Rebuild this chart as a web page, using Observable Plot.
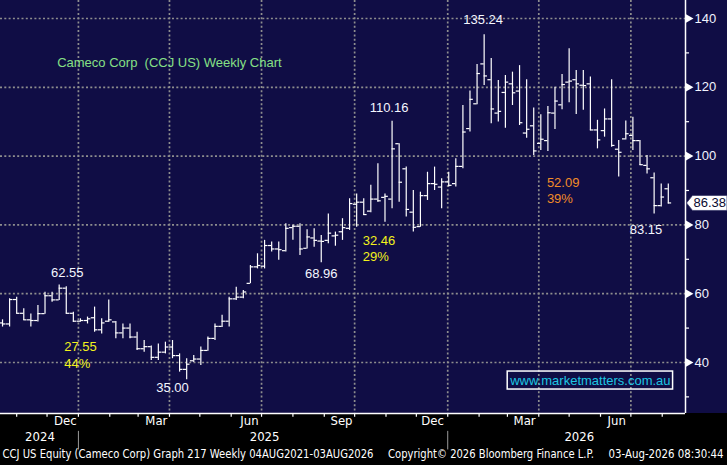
<!DOCTYPE html>
<html><head><meta charset="utf-8">
<script src="https://cdn.jsdelivr.net/npm/d3@7"></script>
<script src="https://cdn.jsdelivr.net/npm/@observablehq/plot@0.6"></script>
<style>
html,body{margin:0;padding:0;background:#000;}
#chart{width:727px;height:465px;overflow:hidden;}
</style></head><body><div id="chart"></div>
<script>
// ---- data ----
const firstWeek = "2024-10-18";
const opens = [51.5,51.2,58.3,54.3,52.4,52.2,54.2,59.4,58.2,61.6,
54.3,52.0,52.2,53.0,49.5,52.0,51.8,48.6,50.0,47.4,
44.0,44.6,41.5,43.0,44.5,42.0,38.0,40.5,41.0,43.5,
47.0,50.5,52.0,58.5,59.0,63.0,67.8,68.0,74.0,73.0,
72.5,79.2,79.6,73.2,76.2,75.3,75.5,76.8,78.0,79.0,
86.0,86.6,84.0,87.5,88.0,87.5,103.6,96.3,83.7,79.5,
88.5,92.0,91.0,92.5,92.0,97.0,108.0,115.2,126.8,122.2,
112.5,118.5,121.0,118.9,106.7,108.8,103.7,104.5,112.5,114.9,
121.5,122.2,120.6,121.0,107.6,107.4,110.8,102.0,105.0,106.0,
104.5,97.3,93.7,85.6,90.5];
const highs = [52.4,58.5,59.0,55.6,54.1,56.6,60.4,60.4,62.55,62.0,
54.6,52.7,53.2,56.1,52.7,58.2,51.9,51.2,51.2,48.8,
46.4,44.8,45.4,45.9,46.4,42.5,41.1,42.0,44.5,47.4,
51.2,53.7,59.0,61.9,60.9,68.2,71.6,75.5,75.0,75.0,
80.3,79.9,80.3,78.6,78.9,76.9,83.2,77.9,81.8,87.6,
89.0,87.6,91.5,97.8,89.0,110.16,103.6,96.8,90.0,89.5,
95.3,96.8,93.4,95.3,99.2,114.7,118.9,126.6,135.24,128.4,
122.0,123.4,124.4,126.3,122.2,114.0,112.0,114.4,120.0,123.7,
131.2,124.9,124.9,123.0,110.4,113.7,122.2,104.5,110.2,111.3,
104.5,100.2,95.1,91.9,91.9];
const lows = [50.3,50.3,54.1,52.2,50.3,51.8,54.0,57.5,58.0,54.1,
51.7,51.7,51.2,48.8,48.3,51.6,46.9,46.9,46.9,43.5,
43.0,40.6,40.6,42.5,41.1,37.2,35.0,40.0,39.1,43.3,
46.4,50.2,50.3,58.0,58.5,62.9,67.2,67.2,72.1,69.7,
72.1,75.5,71.1,73.0,73.5,68.96,74.5,73.8,75.5,78.4,
79.3,82.7,83.5,86.6,80.8,84.7,86.6,82.3,77.9,79.3,
87.1,90.0,84.7,91.0,91.0,96.3,107.0,114.9,120.5,109.4,
109.9,108.1,114.7,108.9,105.2,100.2,101.6,101.3,107.7,113.5,
115.5,112.1,113.3,107.4,102.1,105.5,102.6,93.9,104.7,101.6,
97.3,94.8,83.15,85.2,86.1];
const closes = [51.2,58.3,54.3,52.4,52.2,54.2,59.4,58.2,61.6,54.3,
52.0,52.2,52.7,49.5,51.5,52.4,48.6,50.0,47.4,44.0,
44.6,41.5,43.0,44.5,42.0,38.0,39.5,41.0,43.5,47.0,
50.5,52.0,58.5,59.0,60.5,67.8,68.2,74.0,73.0,72.8,
79.0,79.6,73.0,76.5,75.5,75.2,77.6,77.0,79.2,86.2,
86.6,83.0,87.5,87.0,88.3,102.1,92.4,84.5,79.3,88.5,
92.0,91.8,92.5,91.5,97.0,107.0,116.5,124.0,123.3,113.7,
113.0,121.5,118.4,109.7,107.8,101.5,104.9,112.6,116.0,120.8,
121.8,121.0,120.5,107.6,104.7,110.8,103.1,101.1,106.5,104.5,
97.5,96.3,85.6,88.1,86.38];
const lastPrice = 86.38;

const yTicks = [40, 60, 80, 100, 120, 140];
const yMinorTicks = [30, 50, 70, 90, 110, 130];
const gridDates = ["2025-01-01","2025-04-01","2025-07-01","2025-10-01","2026-01-01","2026-04-01","2026-07-01"];
const monthLabels = ["Dec","Mar","Jun","Sep","Dec","Mar","Jun"];
const monthLabelDates = ["2024-12-19","2025-03-19","2025-06-19","2025-09-18","2025-12-17","2026-03-18","2026-06-17"];
const yearLabels = ["2024","2025","2026"];
const yearLabelDates = ["2024-11-24","2025-07-04","2026-05-11"];
const yearSeparators = ["2025-01-01","2026-01-01"];

const titleText = "Cameco Corp \u00a0(CCJ US) Weekly Chart";
const titleAt = {date: "2024-12-11", value: 127.2};
// white price labels
const priceLabels = ["62.55","35.00","68.96","110.16","135.24","83.15"];
const priceLabelDates = ["2024-12-21","2025-04-04","2025-08-29","2025-11-04","2026-02-05","2026-07-16"];
const priceLabelValues = [66.2, 32.7, 65.9, 114.1, 139.7, 78.7];
// move annotations (value / percent)
const moveLabels = [["27.55","44%"],["32.46","29%"],["52.09","39%"]];
const moveDates = ["2024-12-18","2025-10-09","2026-04-09"];
const moveValues = [[44.65,39.7],[75.5,70.8],[92.3,87.7]];
const moveColors = ["#f2f21c","#f2f21c","#f08c28"];

const watermark = "www.marketmatters.com.au";
const watermarkAt = {date: "2026-05-22", value: 34.8};

const footer = ["CCJ US Equity (Cameco Corp) Graph 217 Weekly 04AUG2021-03AUG2026",
                "Copyright\u00a9 2026 Bloomberg Finance L.P.",
                "03-Aug-2026 08:30:44"];
const footerDates = ["2024-10-18","2025-11-03","2026-06-09"];
const footerWidths = [371, 206, 115];

// ---- build ----
const D = s => new Date(s);
const day = 864e5;
const t0 = D(firstWeek);
const bars = opens.map((o, i) => ({
  date: new Date(+t0 + 7 * i * day), open: o, high: highs[i], low: lows[i], close: closes[i]
}));
const xStart = D("2024-10-16"), xEnd = D("2026-08-24");
const yMin = 25.17, yMax = 145.23;
const monthTicks = d3.utcMonth.range(D("2024-11-01"), D("2026-08-02"));

const font = "Liberation Sans, Arial, sans-serif";
const narrow = "Liberation Sans Narrow, DejaVu Sans Condensed, Arial Narrow, sans-serif";
const grid = {stroke: "#8e8e8e", strokeWidth: 1.7, strokeDasharray: "2,2.3"};

const moves = [];
moveLabels.forEach((pair, k) => pair.forEach((t, j) => moves.push({
  date: D(moveDates[k]), value: moveValues[k][j], text: t, color: moveColors[k]})));

// price-tag shape (arrow pointing left at the axis)
const tagSymbol = {
  draw(ctx) {
    ctx.moveTo(1, 0); ctx.lineTo(7, -7.5); ctx.lineTo(41.5, -7.5);
    ctx.lineTo(41.5, 7.5); ctx.lineTo(7, 7.5); ctx.closePath();
  }
};

const chart = Plot.plot({
  width: 727, height: 465,
  marginLeft: 0, marginRight: 42, marginTop: 0, marginBottom: 52,
  style: {background: "linear-gradient(#100d45 0px, #100d45 413px, #000 413px, #000 465px)", fontFamily: font},
  x: {type: "utc", domain: [xStart, xEnd], axis: null},
  y: {domain: [yMin, yMax], axis: null},
  marks: [
    Plot.ruleY(yTicks, {y: d => d, ...grid}),
    Plot.ruleX(gridDates, {x: d => D(d), ...grid}),
    // frame lines
    Plot.ruleX([xEnd], {x: d => d, stroke: "white", strokeWidth: 1.5}),
    Plot.ruleY([yMin], {y: d => d, stroke: "white", strokeWidth: 1.5}),
    // right axis
    Plot.dot(yTicks, {x: () => xEnd, y: d => d, symbol: "triangle", r: 3.2, rotate: 90, fill: "white", stroke: null, dx: 3}),
    Plot.ruleY(yMinorTicks, {y: d => d, x1: () => xEnd, x2: () => new Date(+xEnd + 4 * day), stroke: "white", strokeWidth: 1.2}),
    Plot.text(yTicks, {x: () => xEnd, y: d => d, text: d => String(d), dx: 9, textAnchor: "start", fill: "#f2f4ff", fontSize: 13}),
    // bottom axis
    Plot.ruleX(monthTicks, {x: d => d, y1: () => yMin, y2: () => yMin - 1.1, stroke: "white", strokeWidth: 1.2}),
    Plot.text(monthLabels, {x: (d, i) => D(monthLabelDates[i]), frameAnchor: "bottom", dy: 11, text: d => d, fill: "white", fontSize: 13, fontFamily: narrow}),
    Plot.text(yearLabels, {x: (d, i) => D(yearLabelDates[i]), frameAnchor: "bottom", dy: 27, text: d => d, fill: "white", fontSize: 13, fontFamily: narrow}),
    Plot.ruleX(yearSeparators, {x: d => D(d), y1: () => yMin - 5.2, y2: () => yMin - 10.6, stroke: "#9a9a9a", strokeWidth: 1}),
    Plot.text(footer, {x: (d, i) => D(footerDates[i]), frameAnchor: "bottom", dy: 44, text: d => d, textAnchor: "start", fill: "white", fontSize: 11.5, fontFamily: narrow}),
    // OHLC bars
    Plot.ruleX(bars, {x: "date", y1: "low", y2: "high", stroke: "white", strokeWidth: 1.2}),
    Plot.ruleY(bars, {y: "open", x1: d => new Date(+d.date - 3.3 * day), x2: "date", stroke: "white", strokeWidth: 1.2}),
    Plot.ruleY(bars, {y: "close", x1: "date", x2: d => new Date(+d.date + 3.3 * day), stroke: "white", strokeWidth: 1.2}),
    // last price tag
    Plot.dot([lastPrice], {x: () => xEnd, y: d => d, symbol: tagSymbol, r: 5, fill: "white", stroke: "#3a3a6a", strokeWidth: 0.8}),
    Plot.text([lastPrice], {x: () => xEnd, y: d => d, text: d => d.toFixed(2), dx: 8, textAnchor: "start", fill: "#0a0a30", fontSize: 13}),
    // annotations
    Plot.text([titleText], {x: () => D(titleAt.date), y: () => titleAt.value, text: d => d, textAnchor: "start", fill: "#86e086", fontSize: 13}),
    Plot.text(priceLabels, {x: (d, i) => D(priceLabelDates[i]), y: (d, i) => priceLabelValues[i], text: d => d, fill: "#f4f6ff", fontSize: 13}),
    Plot.text(moves, {x: "date", y: "value", text: "text", fill: "color", textAnchor: "start", fontSize: 13}),
    Plot.text([watermark], {x: () => D(watermarkAt.date), y: () => watermarkAt.value, text: d => d, fill: "#1ec6e2", fontSize: 13})
  ]
});
document.getElementById("chart").append(chart);

// post-process: footer widths, watermark box
const svgRect = chart.getBoundingClientRect();
chart.querySelectorAll("text").forEach(t => {
  const k = footer.indexOf(t.textContent);
  if (k >= 0) { t.setAttribute("textLength", footerWidths[k]); t.setAttribute("lengthAdjust", "spacingAndGlyphs"); }
});
const wm = [...chart.querySelectorAll("text")].find(t => t.textContent === watermark);
if (wm) {
  const b = wm.getBoundingClientRect();
  d3.select(chart).append("rect")
    .attr("x", b.left - svgRect.left - 2).attr("y", b.top - svgRect.top - 1.5)
    .attr("width", b.width + 4).attr("height", b.height + 3)
    .attr("fill", "none").attr("stroke", "white").attr("stroke-width", 1.5);
}
</script>
</body></html>
